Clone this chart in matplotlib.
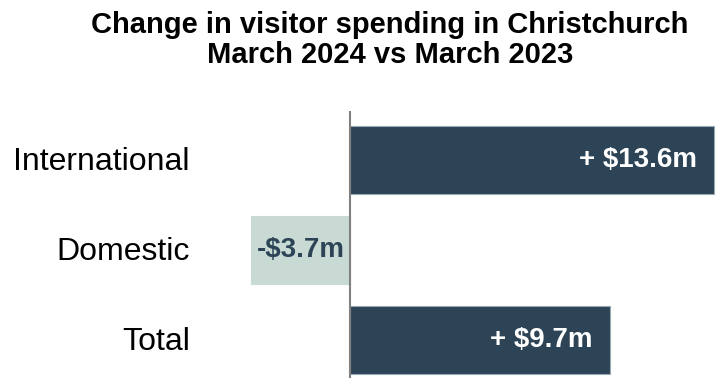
import matplotlib.pyplot as plt

plt.rcParams['font.family'] = ['Liberation Sans', 'DejaVu Sans']

categories = ['International', 'Domestic', 'Total']
change = [13.6, -3.7, 9.7]
labels = ['+ $13.6m', '-$3.7m', '+ $9.7m']

dark = '#2c4456'
light = '#c9dad4'
colors = [dark if v > 0 else light for v in change]

fig = plt.figure(figsize=(7.23, 3.80), dpi=100)
ax = fig.add_axes([230 / 723, 2 / 380, 493 / 723, 267 / 380])

ypos = range(len(categories))
bars = ax.barh(ypos, change, height=0.76, color=colors,
               edgecolor=['#9aa8b3' if v > 0 else light for v in change], linewidth=0.8)

# scale: 26.8 px per $1m, zero line at x=350 px
ax.set_xlim(-120 / 26.8, 373 / 26.8)
ax.set_ylim(2.42, -0.544)
ax.axvline(0, color='#808080', linewidth=1.5)

for bar, v, txt in zip(bars, change, labels):
    yc = bar.get_y() + bar.get_height() / 2
    if v > 0:
        ax.text(v - 17 / 26.8, yc, txt, ha='right', va='center',
                color='white', fontsize=20, fontweight='bold')
    else:
        ax.text(v / 2, yc, txt, ha='center', va='center',
                color=dark, fontsize=20, fontweight='bold')

# category names, right edge at x=190 px
for y, name in zip(ypos, categories):
    ax.text(-160 / 26.8, y + 0.02, name, ha='right', va='center', fontsize=23, color='black')

ax.set_xticks([])
ax.set_yticks([])
for side in ax.spines:
    ax.spines[side].set_visible(False)

fig.text(390 / 723, 1 - 40 / 380, 'Change in visitor spending in Christchurch\nMarch 2024 vs March 2023',
         ha='center', va='center', fontsize=21, fontweight='bold', linespacing=1.1)

fig.savefig('out.png', dpi=100)
